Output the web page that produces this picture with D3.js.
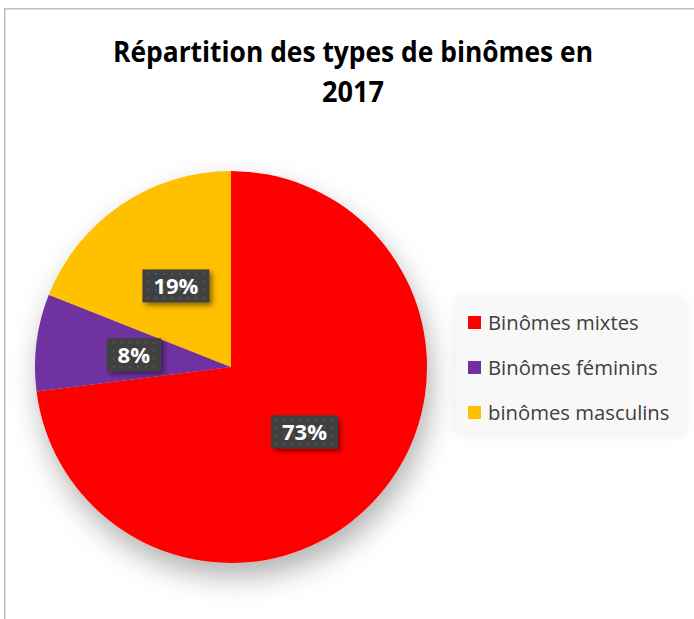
<!DOCTYPE html>
<html>
<head>
<meta charset="utf-8">
<script src="https://cdn.jsdelivr.net/npm/d3@7"></script>
<style>
  html, body { margin: 0; padding: 0; background: #fff; }
  svg { display: block; font-family: "Open Sans", sans-serif; }
</style>
</head>
<body>
<div id="chart"></div>
<script>
const width = 694;
const height = 619;

// data
const categories = ["Binômes mixtes", "Binômes féminins", "binômes masculins"];
const values = [73, 8, 19];
const labels = ["73%", "8%", "19%"];
const colors = ["#ff0000", "#7030a0", "#ffc000"];
const titleLines = ["Répartition des types de binômes en", "2017"];

const cx = 231, cy = 367, radius = 196;

const svg = d3.select("#chart").append("svg")
    .attr("width", width)
    .attr("height", height);

const defs = svg.append("defs");

// soft shadow under the pie
const pieShadow = defs.append("filter")
    .attr("id", "pieShadow")
    .attr("x", "-30%").attr("y", "-30%")
    .attr("width", "160%").attr("height", "160%");
pieShadow.append("feDropShadow")
    .attr("dx", 4).attr("dy", 14)
    .attr("stdDeviation", 14)
    .attr("flood-color", "#000")
    .attr("flood-opacity", 0.3);

const boxShadow = defs.append("filter")
    .attr("id", "boxShadow")
    .attr("x", "-30%").attr("y", "-30%")
    .attr("width", "160%").attr("height", "160%");
boxShadow.append("feDropShadow")
    .attr("dx", 3).attr("dy", 3)
    .attr("stdDeviation", 2.5)
    .attr("flood-color", "#000")
    .attr("flood-opacity", 0.45);

const legendShadow = defs.append("filter")
    .attr("id", "legendShadow")
    .attr("x", "-20%").attr("y", "-20%")
    .attr("width", "140%").attr("height", "140%");
legendShadow.append("feDropShadow")
    .attr("dx", 0).attr("dy", 0)
    .attr("stdDeviation", 6)
    .attr("flood-color", "#000")
    .attr("flood-opacity", 0.08);

// dotted texture of the data labels
const dots = defs.append("pattern")
    .attr("id", "dots")
    .attr("patternUnits", "userSpaceOnUse")
    .attr("width", 8).attr("height", 8);
dots.append("rect").attr("width", 8).attr("height", 8).attr("fill", "#404040");
dots.append("rect").attr("x", 3).attr("y", 3).attr("width", 2).attr("height", 2)
    .attr("fill", "#555555");

// chart border (cut by the window on right and bottom)
svg.append("rect")
    .attr("x", 4.75).attr("y", 8.75)
    .attr("width", width + 20).attr("height", height + 20)
    .attr("fill", "none")
    .attr("stroke", "#bfbfbf")
    .attr("stroke-width", 1.5);

// title
const title = svg.append("g").attr("font-weight", "bold").attr("fill", "#000");
title.append("text")
    .attr("x", 353).attr("y", 62)
    .attr("text-anchor", "middle")
    .attr("font-size", 28)
    .attr("textLength", 480)
    .attr("lengthAdjust", "spacingAndGlyphs")
    .text(titleLines[0]);
title.append("text")
    .attr("x", 353).attr("y", 102)
    .attr("text-anchor", "middle")
    .attr("font-size", 28)
    .attr("textLength", 62)
    .attr("lengthAdjust", "spacingAndGlyphs")
    .text(titleLines[1]);

// pie
const pie = d3.pie().sort(null).value(d => d);
const arcs = pie(values);
const arc = d3.arc().innerRadius(0).outerRadius(radius);

const g = svg.append("g").attr("transform", `translate(${cx},${cy})`);
g.append("g")
    .attr("filter", "url(#pieShadow)")
    .selectAll("path")
    .data(arcs)
    .join("path")
    .attr("d", arc)
    .attr("fill", (d, i) => colors[i]);

// data labels
const lab = g.selectAll("g.lab")
    .data(arcs)
    .join("g")
    .attr("class", "lab")
    .attr("transform", d => `translate(${arc.centroid(d)})`);

lab.each(function (d, i) {
    const sel = d3.select(this);
    const t = sel.append("text")
        .attr("text-anchor", "middle")
        .attr("dy", "0.36em")
        .attr("font-size", 22)
        .attr("font-weight", "bold")
        .attr("fill", "#fff")
        .text(labels[i]);
    const w = t.node().getComputedTextLength();
    sel.insert("rect", "text")
        .attr("x", -w / 2 - 11)
        .attr("y", -16.5)
        .attr("width", w + 22)
        .attr("height", 33)
        .attr("fill", "url(#dots)")
        .attr("filter", "url(#boxShadow)");
});

// legend
const legend = svg.append("g");
legend.append("rect")
    .attr("x", 456).attr("y", 299)
    .attr("width", 228).attr("height", 135)
    .attr("fill", "#f8f8f8")
    .attr("filter", "url(#legendShadow)");

const rowY = d3.scalePoint().domain(categories).range([330, 420]);
const item = legend.selectAll("g.item")
    .data(categories)
    .join("g")
    .attr("class", "item")
    .attr("transform", d => `translate(0,${rowY(d)})`);
item.append("rect")
    .attr("x", 468).attr("y", -14)
    .attr("width", 13).attr("height", 13)
    .attr("fill", (d, i) => colors[i]);
item.append("text")
    .attr("x", 488)
    .attr("font-size", 20.3)
    .attr("fill", "#404040")
    .text(d => d);
</script>
</body>
</html>
